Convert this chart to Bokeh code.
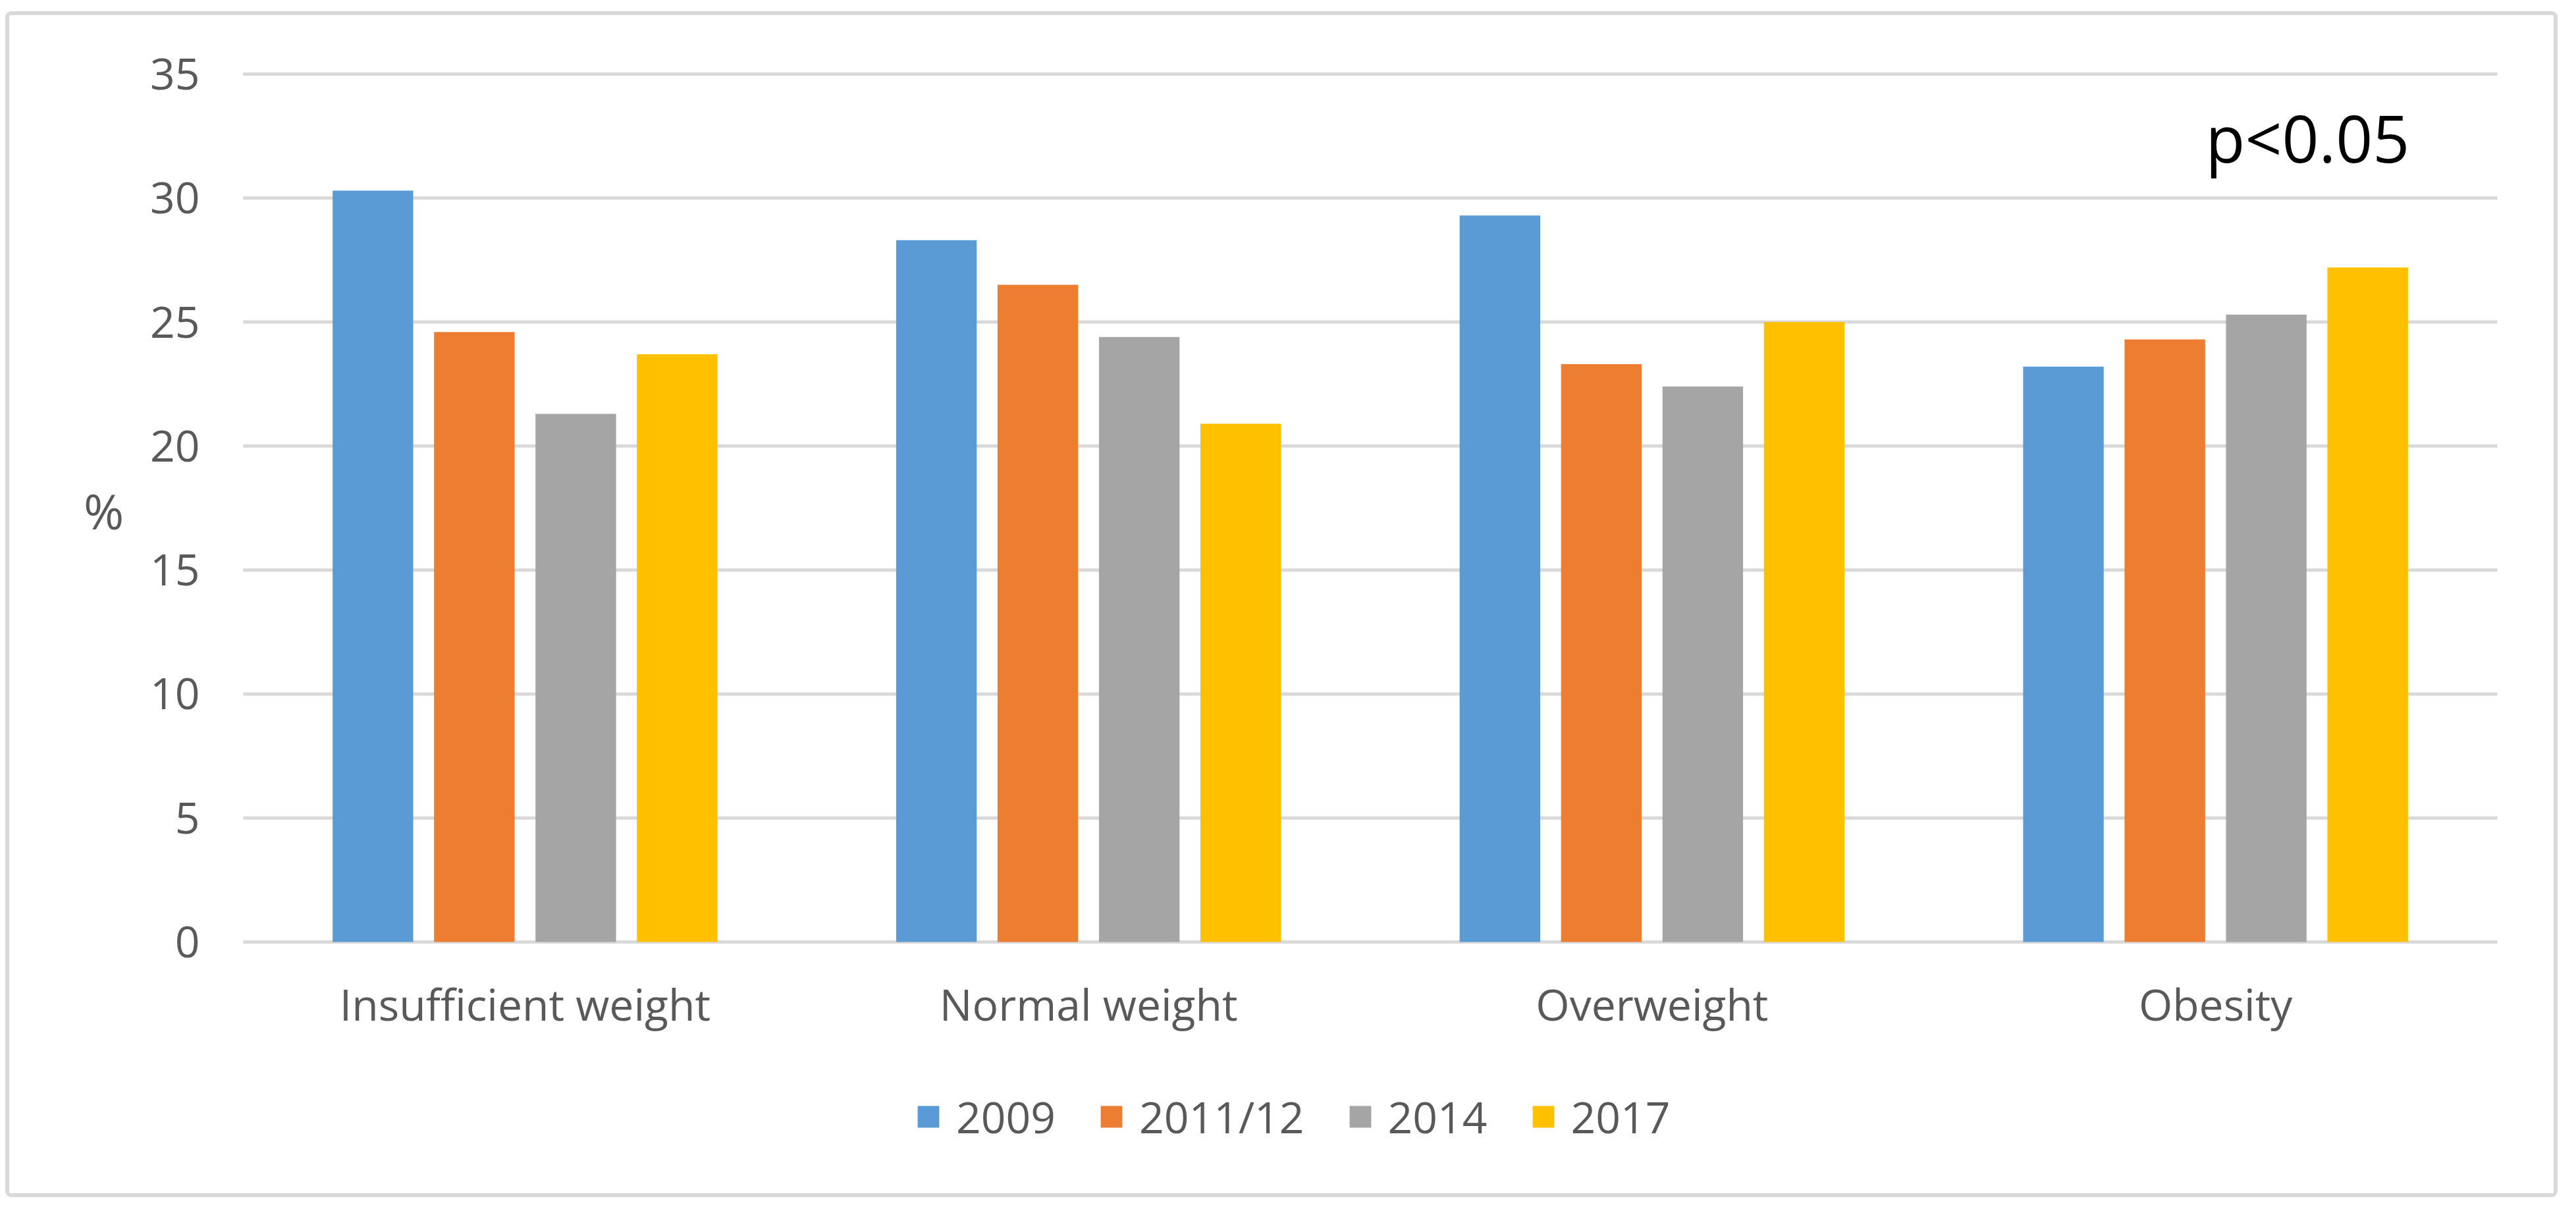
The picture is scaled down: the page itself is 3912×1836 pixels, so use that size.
from bokeh.plotting import figure
from bokeh.models import (ColumnDataSource, Range1d, Legend, LegendItem, Label,
                          FixedTicker, LinearAxis)
from bokeh.transform import dodge
from bokeh.embed import file_html
from bokeh.resources import INLINE

categories = ["Insufficient weight", "Normal weight", "Overweight", "Obesity"]
years = ["2009", "2011/12", "2014", "2017"]
v2009 = [30.3, 28.3, 29.3, 23.2]
v2011_12 = [24.6, 26.5, 23.3, 24.3]
v2014 = [21.3, 24.4, 22.4, 25.3]
v2017 = [23.7, 20.9, 25.0, 27.2]
y_ticks = [0, 5, 10, 15, 20, 25, 30, 35]
colors = ["#5B9BD5", "#ED7D31", "#A5A5A5", "#FFC000"]
offsets = [-0.27, -0.09, 0.09, 0.27]

FONT = "Open Sans"
TXT = "#595959"

# canvas geometry (px)
W, H = 3864, 1789
PL, PR, PT, PB = 355, 3778, 89, 1407
ncat = len(categories)
ymax = y_ticks[-1]
ux = (PR - PL) / ncat
uy = (PB - PT) / ymax

xc = [i + 0.5 for i in range(ncat)]
src = ColumnDataSource(dict(xc=xc, v2009=v2009, v2011_12=v2011_12,
                            v2014=v2014, v2017=v2017))
cols = ["v2009", "v2011_12", "v2014", "v2017"]

p = figure(x_range=Range1d(-PL / ux, ncat + (W - PR) / ux),
           y_range=Range1d(-(H - PB) / uy, ymax + PT / uy),
           x_axis_type=None, y_axis_type=None,
           width=W, height=H, output_backend="svg", toolbar_location=None,
           min_border=0)
p.margin = (23, 0, 0, 14)
p.styles = {"outline": "6px solid #D9D9D9", "border-radius": "3px"}
p.outline_line_color = None
p.background_fill_color = "white"
p.border_fill_color = "white"
p.xgrid.visible = False
p.ygrid.visible = False

# horizontal gridlines over the plot area
p.segment(x0=[0] * len(y_ticks), x1=[ncat] * len(y_ticks), y0=y_ticks, y1=y_ticks,
          line_color="#D9D9D9", line_width=5)

renderers = []
for col, off, c in zip(cols, offsets, colors):
    r = p.vbar(x=dodge("xc", off), top=col, width=0.143,
               source=src, fill_color=c, line_color=None)
    renderers.append(r)

yax = LinearAxis(fixed_location=0, ticker=FixedTicker(ticks=y_ticks))
yax.axis_line_color = None
yax.major_tick_line_color = None
yax.minor_tick_line_color = None
yax.major_tick_in = 0
yax.major_tick_out = 0
yax.major_label_standoff = 66
yax.major_label_text_font = FONT
yax.major_label_text_font_size = "66px"
yax.major_label_text_color = TXT
p.add_layout(yax, "left")

xax = LinearAxis(fixed_location=0, ticker=FixedTicker(ticks=xc),
                 major_label_overrides={x: c for x, c in zip(xc, categories)})
xax.axis_line_color = None
xax.major_tick_line_color = None
xax.minor_tick_line_color = None
xax.major_tick_in = 0
xax.major_tick_out = 0
xax.major_label_standoff = 48
xax.major_label_text_font = FONT
xax.major_label_text_font_size = "66px"
xax.major_label_text_color = TXT
p.add_layout(xax, "below")

legend = Legend(items=[LegendItem(label=y, renderers=[r]) for y, r in zip(years, renderers)],
                orientation="horizontal", location=(1375, 72),
                glyph_width=41, glyph_height=41, label_standoff=22, spacing=64,
                padding=0, margin=0, border_line_color=None, background_fill_alpha=0,
                label_text_font=FONT, label_text_font_size="66px",
                label_text_color=TXT)
p.add_layout(legend)

p.add_layout(Label(x=143, y=17.4, x_units="screen", y_units="data", text="%",
                   text_align="center", text_baseline="middle",
                   text_font=FONT, text_font_size="74px", text_color=TXT))

p.add_layout(Label(x=3335, y=32.45, x_units="screen", y_units="data", text="p<0.05",
                   text_align="left", text_baseline="alphabetic",
                   text_font=FONT, text_font_size="98px", text_color="#000000"))

open("out.html", "w").write(file_html(p, INLINE))
